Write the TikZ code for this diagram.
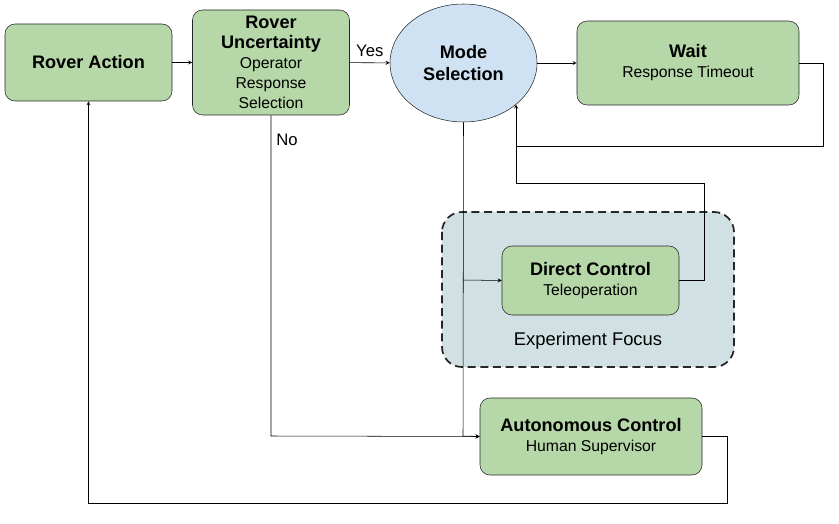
\documentclass[tikz,border=0pt]{standalone}
\usepackage{fontspec}
\setmainfont{Liberation Sans}
\usetikzlibrary{shapes.geometric}
\definecolor{boxgreen}{HTML}{B6D7A8}
\definecolor{modeblue}{HTML}{CFE2F3}
\definecolor{focusgray}{HTML}{D0E0E3}
\newcommand{\headfont}{\fontsize{13.6}{16}\bfseries\selectfont}
\begin{document}
\begin{tikzpicture}[x=0.75pt, y=-0.75pt,
        box/.style={rectangle, rounded corners=7.5pt, draw=black!85, fill=boxgreen,
      align=center, inner sep=0pt, font=\fontsize{11.8}{15}\selectfont},
        mode/.style={ellipse, draw=black!85, fill=modeblue, align=center,
      inner sep=0pt, font=\headfont},
        focus/.style={rounded corners=15pt, draw=black!85, line width=1.3pt,
      dash pattern=on 6pt off 3.5pt, fill=focusgray},
        line/.style={thin, black},
        arrow/.style={line, -stealth},
        lbl/.style={font=\fontsize{12.5}{15}\selectfont}]
\useasboundingbox (0,0) rectangle (839,524);

	\draw [focus] (442,212) rectangle (734,367);
	\node [lbl, font=\fontsize{13.8}{16}\selectfont] (focuslbl) at (588,341) {Experiment Focus};

	\node [box, minimum width=125.25pt, minimum height=57.75pt] (act) at (88.5,62.5)
      {\headfont Rover Action};
	\node [box, minimum width=117.75pt, minimum height=78.75pt] (unc) at (271,62.5)
      {{\headfont Rover}\\{\headfont Uncertainty}\\Operator\\Response\\Selection};
	\node [mode, minimum width=110.25pt, minimum height=88.5pt] (mode) at (463.5,63)
      {Mode\\Selection};
	\node [box, minimum width=166.5pt, minimum height=63pt] (wait) at (688,63)
      {{\headfont Wait}\\Response Timeout};
	\node [box, minimum width=132.75pt, minimum height=51.75pt] (direct) at (590.5,280.5)
      {{\headfont Direct Control}\\Teleoperation};
	\node [box, minimum width=166.5pt, minimum height=57.75pt] (auto) at (591,436.5)
      {{\headfont Autonomous Control}\\Human Supervisor};

	\coordinate (waitr) at (823,146);
	\coordinate (waitl) at (516,146);
	\coordinate (modein) at (516,104.5);
	\coordinate (directr) at (704,183);
	\coordinate (directl) at (516,183);
	\coordinate (split) at (463,280);
	\coordinate (modedown) at (463,436);
	\coordinate (nodown) at (271,436);
	\coordinate (autor) at (727,503);
	\coordinate (autol) at (88.5,503);

	\path [arrow] (act) edge (unc);
	\path [arrow] (unc) edge node [lbl, above=1pt] (yes) {Yes} (mode);
	\path [arrow] (mode) edge (wait);

	\draw [arrow] (wait.east) -| (waitr) -- (waitl) -- (modein);
	\draw [line] (direct.east) -| (directr) -- (directl) -- (waitl);
	\draw [arrow] (mode.south) -- (modedown) -- (auto.west);
	\draw [arrow] (split) -- (direct.west);
	\draw [arrow] (unc.south) -- (nodown) -- (auto.west);
	\draw [arrow] (auto.east) -| (autor) -- (autol) -- (act.south);

	\node [lbl] (no) at (287,140) {No};
\end{tikzpicture}
\end{document}
